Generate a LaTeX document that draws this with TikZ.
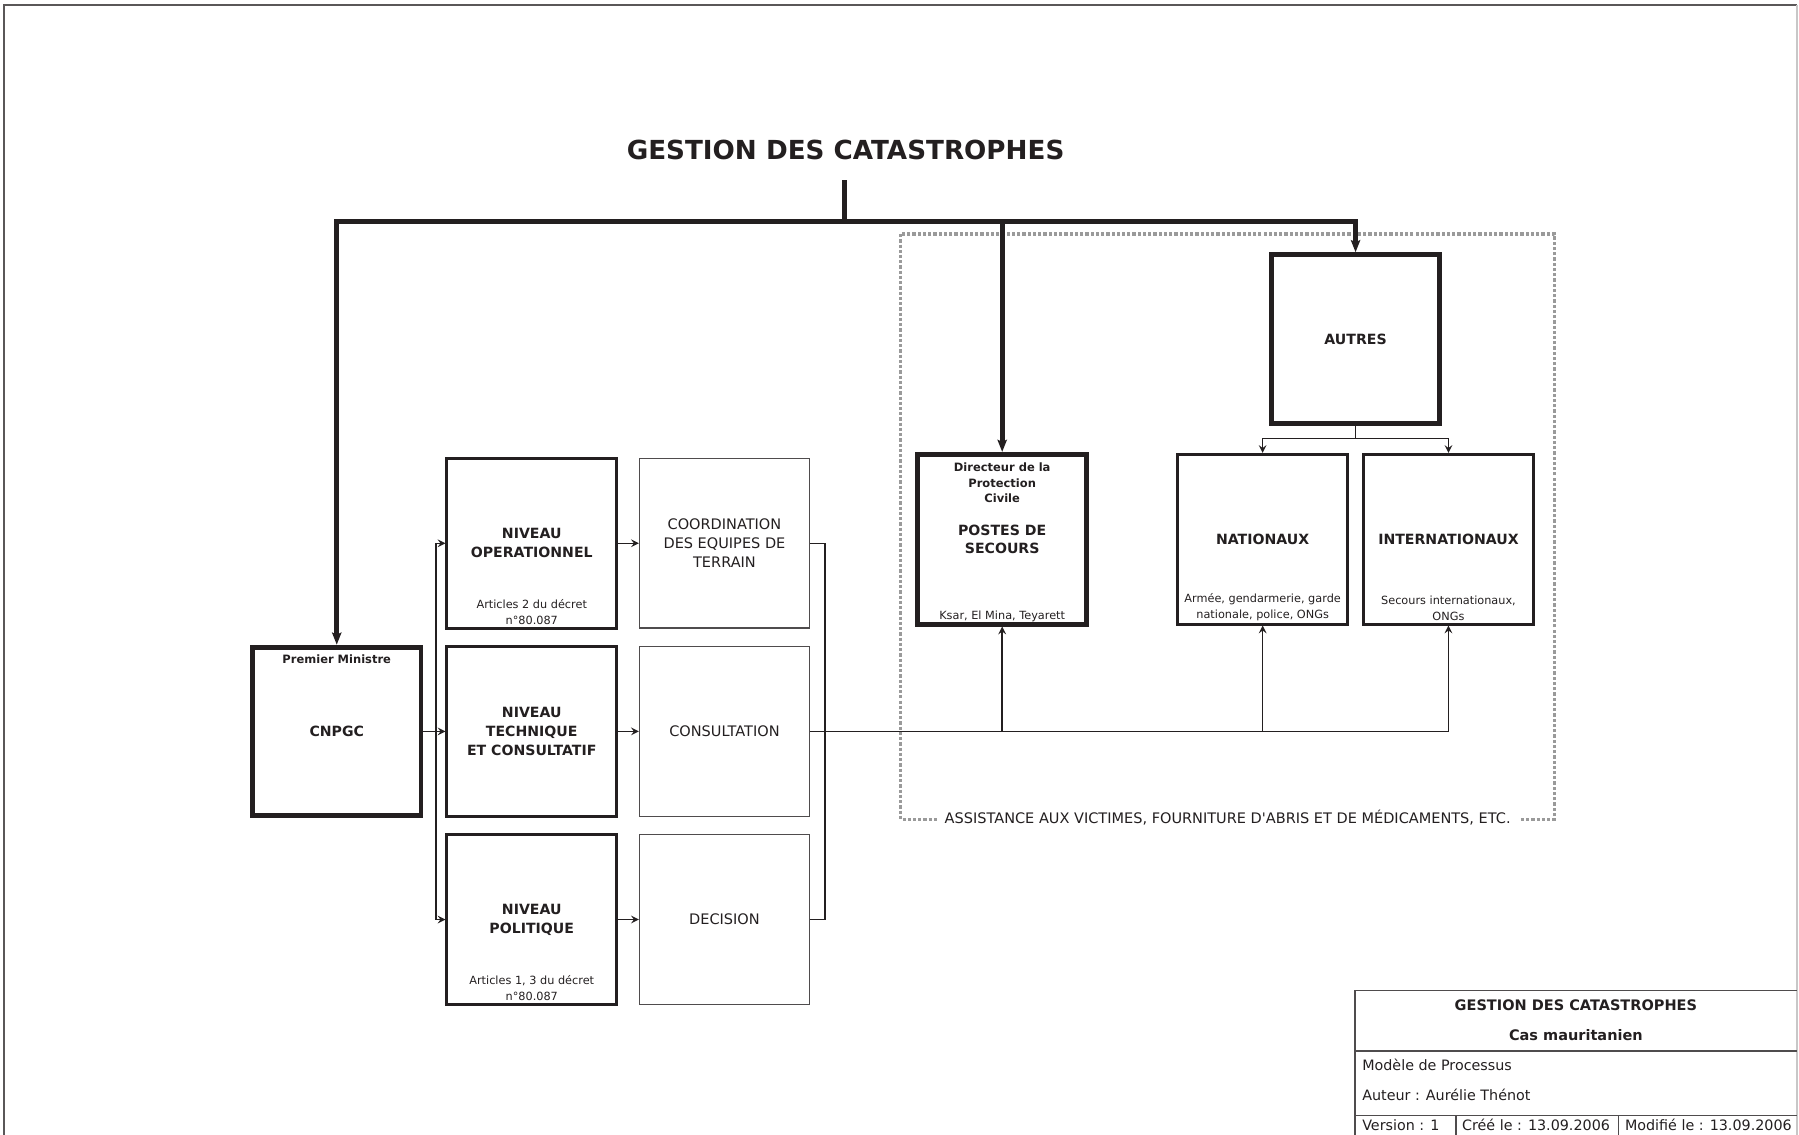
\documentclass[tikz,border=0pt]{standalone}
\usepackage{fontspec}
\setmainfont{DejaVu Sans}
\usetikzlibrary{shapes.geometric, arrows, arrows.meta}
\definecolor{ink}{HTML}{231F20}
\definecolor{zonegray}{HTML}{9A9A9A}
\tikzstyle{headbox} = [
    rectangle,
    minimum width=2.94cm,
    minimum height=2.94cm,
    align=center,
    line width=2.4pt,
    draw=ink,
    font=\fontsize{7}{9.3}\selectfont\bfseries
]
\tikzstyle{levelbox} = [
    rectangle,
    minimum width=2.96cm,
    minimum height=2.96cm,
    align=center,
    line width=1.4pt,
    draw=ink,
    font=\fontsize{7}{9.3}\selectfont\bfseries
]
\tikzstyle{taskbox} = [
    rectangle,
    minimum width=2.96cm,
    minimum height=2.96cm,
    align=center,
    line width=0.7pt,
    draw=ink!80,
    font=\fontsize{7.2}{9.4}\selectfont
]
\tikzstyle{note} = [align=center, inner sep=1.6pt, font=\fontsize{5.6}{7.9}\selectfont]
\tikzstyle{boldnote} = [note, font=\fontsize{5.7}{7.9}\selectfont\bfseries]
\tikzstyle{cell} = [inner sep=0pt, font=\fontsize{7.1}{8}\selectfont]
\tikzstyle{arrow} = [line width=0.7pt,->,>=stealth]
\tikzstyle{link} = [line width=0.7pt]
\tikzstyle{trunk} = [line width=2.5pt]
\tikzstyle{trunkarrow} = [trunk,-{Stealth[length=6pt,width=4.6pt,inset=1pt]}]
\tikzstyle{zone} = [draw=zonegray, line width=1.6pt, dash pattern=on 1.6pt off 1pt]

\begin{document}
\begin{tikzpicture}[x=0.02cm, y=-0.02cm, color=ink, node distance=3.28cm]
\useasboundingbox (0,0) rectangle (1568,989);

\draw [draw=ink!75, line width=1pt] (3.5,989) -- (3.5,4.5) -- (1566.5,4.5);
\draw [draw=ink!25, line width=1pt] (1566.5,4.5) -- (1566.5,989);

\node (title) [font=\fontsize{13}{15}\selectfont\bfseries] at (737,131)
{GESTION DES CATASTROPHES};

\node (cnpgc) [headbox] at (293.5,637.5) {CNPGC};

\node (nivtech) [levelbox, right of=cnpgc, node distance=3.4cm]
{NIVEAU\\TECHNIQUE\\ET CONSULTATIF};

\node (nivop) [levelbox, above of=nivtech] {NIVEAU\\OPERATIONNEL};

\node (nivpol) [levelbox, below of=nivtech] {NIVEAU\\POLITIQUE};

\node (consult) [taskbox, right of=nivtech, node distance=3.36cm] {CONSULTATION};

\node (coord) [taskbox, above of=consult]
{COORDINATION\\DES EQUIPES DE\\TERRAIN};

\node (decis) [taskbox, below of=consult] {DECISION};

\node (postes) [headbox, minimum height=2.96cm] at (873.5,470)
{POSTES DE\\SECOURS};

\node (autres) [headbox] at (1181.5,295.5) {AUTRES};

\node (nation) [levelbox] at (1100.5,470) {NATIONAUX};

\node (intern) [levelbox, right of=nation, node distance=3.24cm] {INTERNATIONAUX};

\node (cnpgctop) [boldnote, below=3.4pt] at (cnpgc.north) {Premier Ministre};
\node (nivopart) [note, above=0.6pt] at (nivop.south) {Articles 2 du décret\\n°80.087};
\node (nivpolart) [note, above=0.6pt] at (nivpol.south) {Articles 1, 3 du décret\\n°80.087};
\node (postestop) [boldnote, below=3.4pt] at (postes.north) {Directeur de la\\Protection\\Civile};
\node (postesbas) [note, above=0.6pt] at (postes.south) {Ksar, El Mina, Teyarett};
\node (nationbas) [note, above=0.6pt] at (nation.south) {Armée, gendarmerie, garde\\nationale, police, ONGs};
\node (internbas) [note, above=0.6pt] at (intern.south) {Secours internationaux,\\ONGs};

\draw [zone] (785,204) rectangle (1355,714);
\node (assist) [fill=white, inner xsep=4pt, inner ysep=1pt, font=\fontsize{7.2}{9}\selectfont] at (1070,713)
{ASSISTANCE AUX VICTIMES, FOURNITURE D\textquotesingle ABRIS ET DE MÉDICAMENTS, ETC.};

\coordinate (stem) at (736,157);
\coordinate (hub) at (736,193);
\draw [trunk] (stem) -- (hub);
\draw [trunkarrow] (hub) -| (cnpgc.north);
\draw [trunkarrow] (hub) -| (postes.north);
\draw [trunkarrow] (hub) -| (autres.north);

\draw [arrow] (cnpgc) -- (nivtech);
\draw [arrow] (cnpgc.east) -- ++(11,0) |- (nivop.west);
\draw [arrow] (cnpgc.east) -- ++(11,0) |- (nivpol.west);
\draw [arrow] (nivop) -- (coord);
\draw [arrow] (nivtech) -- (consult);
\draw [arrow] (nivpol) -- (decis);
\draw [link] (coord.east) -- ++(13,0) |- (decis.east);
\draw [arrow] (consult.east) -| (intern.south);
\draw [arrow] (postes.south |- consult.east) -- (postes.south);
\draw [arrow] (nation.south |- consult.east) -- (nation.south);
\draw [arrow] (autres.south) -- ++(0,11) -| (nation.north);
\draw [arrow] (autres.south) -- ++(0,11) -| (intern.north);

\draw [draw=ink!80, line width=0.6pt] (1181,995) -- (1181,863) -- (1566.5,863);
\draw [draw=ink!80, line width=0.6pt] (1181,916) -- (1566.5,916);
\draw [draw=ink!80, line width=0.6pt] (1181,972) -- (1566.5,972);
\draw [draw=ink!80, line width=0.6pt] (1269,972) -- (1269,995);
\draw [draw=ink!80, line width=0.6pt] (1411,972) -- (1411,995);

\node (tbtitle) [cell, font=\fontsize{7.2}{8}\selectfont\bfseries] at (1373.5,876) {GESTION DES CATASTROPHES};
\node (tbcase) [cell, font=\fontsize{7.2}{8}\selectfont\bfseries] at (1373.5,902) {Cas mauritanien};
\node (tbmodel) [cell, anchor=west] at (1187,928) {Modèle de Processus};
\node (tbauthor) [cell, anchor=west] at (1187,954) {Auteur : Aurélie Thénot};
\node (tbversion) [cell, anchor=west] at (1187,980.5) {Version : 1};
\node (tbcreated) [cell, anchor=west] at (1274,980.5) {Créé le : 13.09.2006};
\node (tbmodified) [cell, anchor=west] at (1416,980.5) {Modifié le : 13.09.2006};

\end{tikzpicture}
\end{document}
